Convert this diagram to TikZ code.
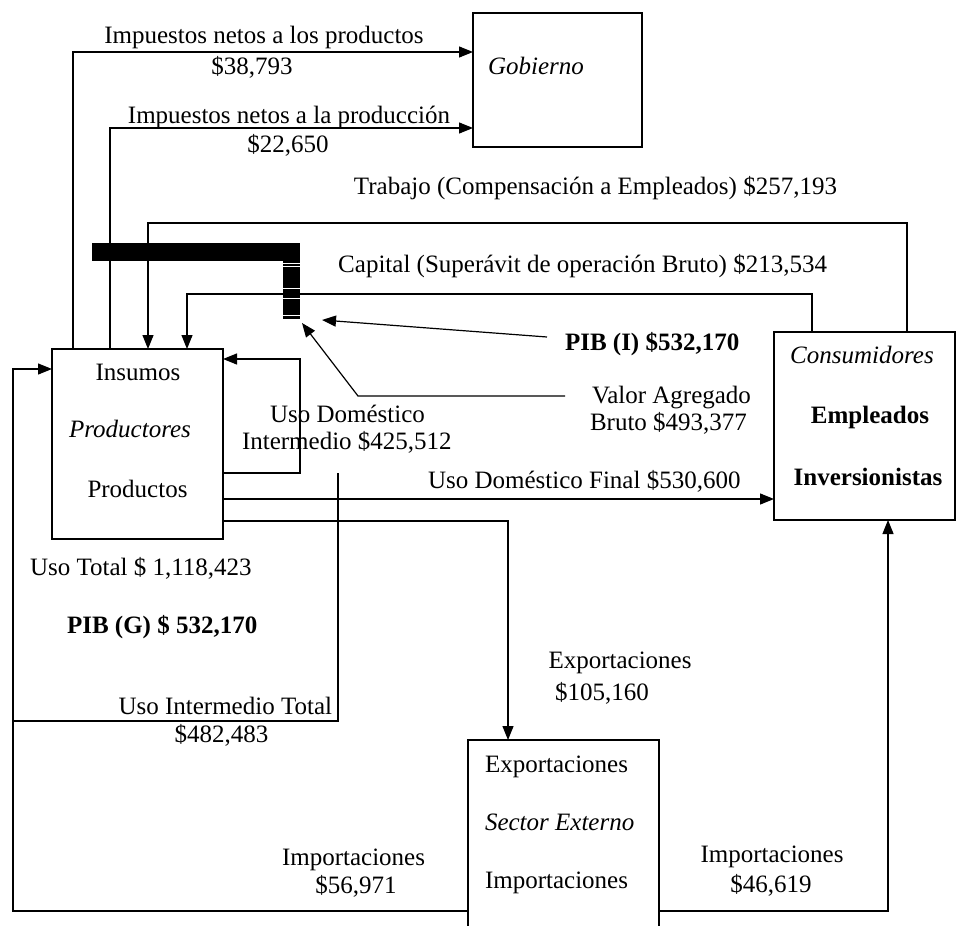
\documentclass[tikz,border=0pt]{standalone}
\usepackage{fontspec}
\setmainfont{Liberation Serif}
\usetikzlibrary{arrows.meta}
\begin{document}
\begin{tikzpicture}[x=1pt,y=-1pt,
  boxst/.style={draw, line width=1.2pt, inner sep=0pt, outer sep=0pt},
  lbl/.style={font=\fontsize{25}{29}\selectfont, inner sep=0pt, outer sep=0pt},
  ln/.style={line width=1.2pt},
  arr/.style={line width=1.2pt, -{Triangle[length=14pt,width=11pt]}}]
\useasboundingbox (0,0) rectangle (957,925);
\clip (0,0) rectangle (957,925);
\fill[white] (0,0) rectangle (957,925);
% boxes
\node[boxst, minimum width=169pt, minimum height=134pt] (gob) at (557.5,80) {};
\node[boxst, minimum width=171pt, minimum height=190pt] (prod) at (137.5,444) {};
\node[boxst, minimum width=181pt, minimum height=188pt] (cons) at (864.5,426) {};
\node[boxst, minimum width=191pt, minimum height=205pt] (sext) at (563.5,842.5) {};
% box texts
\node[lbl, anchor=base west, font=\fontsize{25}{29}\selectfont\itshape] (tgob) at (488,75) {Gobierno};
\node[lbl, anchor=base] (tins) at (138,380) {Insumos};
\node[lbl, anchor=base, font=\fontsize{25}{29}\selectfont\itshape] (tpro) at (130,437) {Productores};
\node[lbl, anchor=base] (tpds) at (137.5,497) {Productos};
\node[lbl, anchor=base, font=\fontsize{25}{29}\selectfont\itshape] (tcon) at (862,363) {Consumidores};
\node[lbl, anchor=base, font=\fontsize{25}{29}\selectfont\bfseries] (temp) at (870,423) {Empleados};
\node[lbl, anchor=base, font=\fontsize{25}{29}\selectfont\bfseries] (tinv) at (868,485) {Inversionistas};
\node[lbl, anchor=base west] (texp) at (485,772) {Exportaciones};
\node[lbl, anchor=base west, font=\fontsize{25}{29}\selectfont\itshape] (tsec) at (485,830) {Sector Externo};
\node[lbl, anchor=base west] (timp) at (485,888) {Importaciones};
% labels
\node[lbl, anchor=base] (l1a) at (264,44) {Impuestos netos a los productos};
\node[lbl, anchor=base] (l1b) at (252,75) {\$38,793};
\node[lbl, anchor=base] (l2a) at (289,124) {Impuestos netos a la producción};
\node[lbl, anchor=base] (l2b) at (288,153) {\$22,650};
\node[lbl, anchor=base east] (ltra) at (837,195) {Trabajo (Compensación a Empleados) \$257,193};
\node[lbl, anchor=base east] (lcap) at (827,272) {Capital (Superávit de operación Bruto) \$213,534};
\node[lbl, anchor=base west, font=\fontsize{25}{29}\selectfont\bfseries] (pibi) at (565,350) {PIB (I) \$532,170};
\node[lbl, anchor=base west] (va1) at (592,403) {Valor Agregado};
\node[lbl, anchor=base west] (va2) at (590,430) {Bruto \$493,377};
\node[lbl, anchor=base west] (udi1) at (270,422) {Uso Doméstico};
\node[lbl, anchor=base west] (udi2) at (242,449) {Intermedio \$425,512};
\node[lbl, anchor=base west] (udf) at (428,488) {Uso Doméstico Final \$530,600};
\node[lbl, anchor=base west] (ut) at (30,575) {Uso Total \$ 1,118,423};
\node[lbl, anchor=base west, font=\fontsize{25}{29}\selectfont\bfseries] (pibg) at (67,633) {PIB (G) \$ 532,170};
\node[lbl, anchor=base east] (uit1) at (332,714) {Uso Intermedio Total};
\node[lbl, anchor=base] (uit2) at (221.5,742) {\$482,483};
\node[lbl, anchor=base] (ex1) at (620,668) {Exportaciones};
\node[lbl, anchor=base] (ex2) at (602,700) {\$105,160};
\node[lbl, anchor=base] (im1) at (353.5,865) {Importaciones};
\node[lbl, anchor=base] (im2) at (356,893) {\$56,971};
\node[lbl, anchor=base] (im3) at (772,862) {Importaciones};
\node[lbl, anchor=base] (im4) at (771,892) {\$46,619};
% black bar
\fill (92,243) rectangle (300,261);
\fill (283,243) rectangle (300,319);
\foreach \yy in {263,266,288,298,315} \draw[white, line width=0.8pt] (283,\yy) -- (300,\yy);
% coordinates
\coordinate (pibstart) at (547,337);
\coordinate (pibtip) at (322,320);
\coordinate (vastart) at (565,396);
\coordinate (vabend) at (358,396);
\coordinate (vatip) at (302,323);
\coordinate (uitop) at (338,473);
\coordinate (uijn) at (13,721);
% connectors
\draw[arr] ([xshift=21pt]prod.north west) |- ([yshift=28pt]gob.west);
\draw[arr] ([xshift=58pt]prod.north west) |- ([yshift=-48pt]gob.west);
\draw[arr] ([xshift=133pt]cons.north west) -- ++(0,-109) -| ([xshift=96pt]prod.north west);
\draw[arr] ([xshift=38pt]cons.north west) -- ++(0,-38) -| ([xshift=135pt]prod.north west);
\draw[arr] ([yshift=-29pt]prod.east) -- ++(77,0) |- ([yshift=85pt]prod.east);
\draw[arr] ([yshift=-55pt]prod.east) -- ([yshift=-73pt]cons.west);
\draw[arr] ([yshift=-77pt]prod.east) -| ([xshift=40pt]sext.north west);
\draw[arr] ([yshift=-68.5pt]sext.east) -| ([xshift=114pt]cons.south west);
\draw[arr] ([yshift=-68.5pt]sext.west) -- ++(-455,0) |- ([yshift=75pt]prod.west);
\draw[ln] (uitop) |- (uijn);
\draw[arr] (pibstart) -- (pibtip);
\draw[arr] (vastart) -- (vabend) -- (vatip);
\end{tikzpicture}
\end{document}
